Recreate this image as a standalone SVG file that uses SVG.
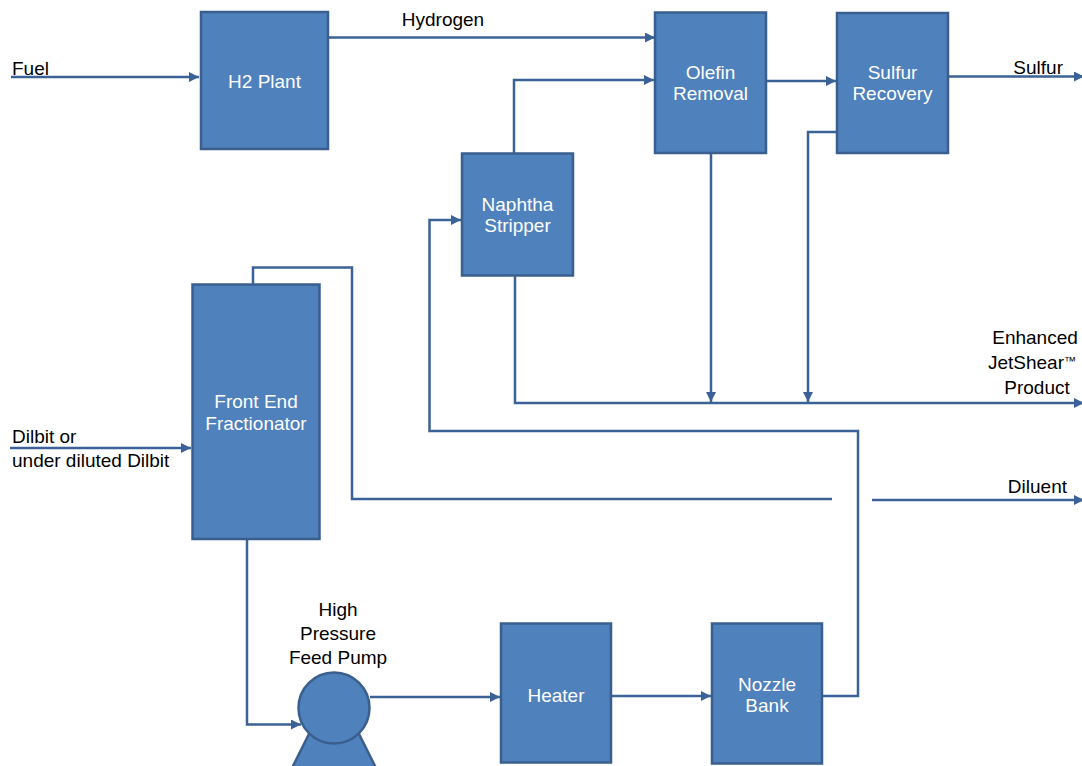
<svg xmlns="http://www.w3.org/2000/svg" width="1082" height="766" viewBox="0 0 1082 766">
<style>
.box{fill:#4F81BD;stroke:#3A5F8E;stroke-width:2.5}
.bt{font-family:"Liberation Sans",Arial,sans-serif;font-size:19px;fill:#FFFFFF;text-anchor:middle}
.lt{font-family:"Liberation Sans",Arial,sans-serif;font-size:19px;fill:#000000}
.ln{fill:none;stroke:#3A6296;stroke-width:2.5}
</style>
<defs>
<marker id="ah" viewBox="0 0 10 10" refX="10" refY="5" markerWidth="4" markerHeight="4" orient="auto" markerUnits="strokeWidth">
<path d="M0,0 L10,5 L0,10 z" fill="#3A6296"/>
</marker>
</defs>
<rect width="1082" height="766" fill="#FFFFFF"/>
<g id="connectors">
<path class="ln" d="M11,77 H199" marker-end="url(#ah)"/>
<path class="ln" d="M328,37.5 H655" marker-end="url(#ah)"/>
<path class="ln" d="M514,153 V80 H654" marker-end="url(#ah)"/>
<path class="ln" d="M766,81 H836" marker-end="url(#ah)"/>
<path class="ln" d="M948,76.5 H1084" marker-end="url(#ah)"/>
<path class="ln" d="M711,153 V402" marker-end="url(#ah)"/>
<path class="ln" d="M836,132 H808 V402" marker-end="url(#ah)"/>
<path class="ln" d="M515,276 V403 H1084" marker-end="url(#ah)"/>
<path class="ln" d="M822,696 H858 V431 H429.5 V220 H461" marker-end="url(#ah)"/>
<path class="ln" d="M253,284 V267.5 H352 V499 H832"/>
<path class="ln" d="M872,500 H1084" marker-end="url(#ah)"/>
<path class="ln" d="M10,448 H191" marker-end="url(#ah)"/>
<path class="ln" d="M247,539 V724.5 H301" marker-end="url(#ah)"/>
<path class="ln" d="M370,697 H500" marker-end="url(#ah)"/>
<path class="ln" d="M611,696 H711" marker-end="url(#ah)"/>
</g>
<g id="h2plant">
<rect class="box" x="201" y="12" width="127" height="137"/>
<text class="bt" x="264.5" y="88">H2 Plant</text>
</g>
<g id="olefin">
<rect class="box" x="655" y="12.5" width="111" height="140.5"/>
<text class="bt" x="710.5" y="79">Olefin</text>
<text class="bt" x="710.5" y="100">Removal</text>
</g>
<g id="sulfur">
<rect class="box" x="837" y="13" width="111" height="140"/>
<text class="bt" x="892.5" y="79">Sulfur</text>
<text class="bt" x="892.5" y="100">Recovery</text>
</g>
<g id="naphtha">
<rect class="box" x="462" y="153.5" width="111" height="122"/>
<text class="bt" x="517.5" y="211">Naphtha</text>
<text class="bt" x="517.5" y="232">Stripper</text>
</g>
<g id="fractionator">
<rect class="box" x="192.5" y="284.5" width="127" height="254.5"/>
<text class="bt" x="256" y="408">Front End</text>
<text class="bt" x="256" y="430">Fractionator</text>
</g>
<g id="pump">
<polygon points="309,734 359,734 376,768 292,768" fill="#4F81BD" stroke="#3A5F8E" stroke-width="2.5"/>
<circle cx="334" cy="708" r="35.5" fill="#4F81BD" stroke="#3A5F8E" stroke-width="2.5"/>
<text class="lt" text-anchor="middle" x="338" y="616">High</text>
<text class="lt" text-anchor="middle" x="338" y="640">Pressure</text>
<text class="lt" text-anchor="middle" x="338" y="664">Feed Pump</text>
</g>
<g id="heater">
<rect class="box" x="501" y="623.5" width="110" height="139"/>
<text class="bt" x="556" y="702">Heater</text>
</g>
<g id="nozzle">
<rect class="box" x="712" y="623.5" width="110" height="140"/>
<text class="bt" x="767" y="691">Nozzle</text>
<text class="bt" x="767" y="712">Bank</text>
</g>
<g id="labels">
<text class="lt" x="12" y="75">Fuel</text>
<text class="lt" x="443" y="26" text-anchor="middle">Hydrogen</text>
<text class="lt" x="1063" y="74" text-anchor="end">Sulfur</text>
<text class="lt" x="1035" y="344" text-anchor="middle">Enhanced</text>
<text class="lt" x="1076" y="369" text-anchor="end">JetShear<tspan font-size="12" dy="-4">™</tspan></text>
<text class="lt" x="1037" y="394" text-anchor="middle">Product</text>
<text class="lt" x="1067" y="493" text-anchor="end">Diluent</text>
<text class="lt" x="12" y="443">Dilbit or</text>
<text class="lt" x="12" y="467">under diluted Dilbit</text>
</g>
</svg>
